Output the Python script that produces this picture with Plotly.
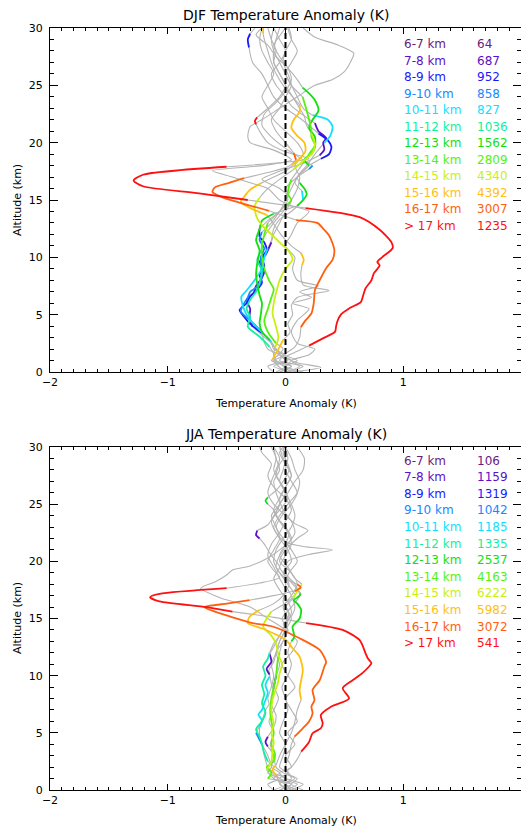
import plotly.graph_objects as go

# ---------------- legend / categories ----------------
BINS = ["6-7 km", "7-8 km", "8-9 km", "9-10 km", "10-11 km", "11-12 km",
        "12-13 km", "13-14 km", "14-15 km", "15-16 km", "16-17 km", "> 17 km"]
COLORS = ["#6a1a80", "#5a10c8", "#1818ff", "#1888ff", "#10e0ff", "#10f0a0",
          "#10e010", "#58f010", "#c8f010", "#ffc010", "#ff6010", "#ff1010"]
DJF_COUNTS = [64, 687, 952, 858, 827, 1036, 1562, 2809, 4340, 4392, 3007, 1235]
JJA_COUNTS = [106, 1159, 1319, 1042, 1185, 1335, 2537, 4163, 6222, 5982, 3072, 541]

X_TICKS = [-2, -1, 0, 1, 2]
Y_TICKS = [0, 5, 10, 15, 20, 25, 30]

# ---------------- DJF profiles (altitude km, anomaly K, significant ranges) ----------------
djf_b0_z = [0, 0.5, 1, 1.5, 2, 2.5, 3.5, 4.5, 5.5, 6, 6.5, 7, 7.5, 8, 9, 10, 11, 12, 13, 14, 14.5, 15, 16, 16.5, 17, 17.55, 18, 18.5, 19.35, 20, 20.5, 21.4, 22, 23, 24, 25, 25.5, 26.2, 27, 27.8, 28.5, 29.2, 30]
djf_b0_x = [0.0, 0.12, 0.05, 0.2, 0.25, 0.1, 0.05, 0.1, 0.2, 0.06, 0.22, 0.12, 0.28, 0.1, 0.06, 0.08, 0.0, 0.05, 0.1, 0.2, 0.05, -0.05, -0.15, -0.3, -0.45, -0.62, -0.2, 0.05, -0.1, -0.3, -0.32, -0.3, -0.2, -0.05, 0.1, 0.25, 0.4, 0.5, 0.55, 0.58, 0.45, 0.25, 0.15]
djf_b0_sig = []

djf_b1_z = [0, 0.5, 1, 1.5, 2, 2.5, 3.2, 3.95, 4.8, 5.5, 6.28, 6.9, 7.5, 8.2, 8.9, 9.6, 10.2, 10.6, 11.3, 12, 13, 14, 15, 16, 16.8, 17.5, 18.2, 18.9, 19.4, 20.0, 20.4, 21.0, 21.7, 22.4, 23.2, 24, 25, 26, 27, 28, 29, 30]
djf_b1_x = [-0.05, 0.05, -0.1, 0.0, -0.1, -0.12, -0.2, -0.28, -0.305, -0.3, -0.33, -0.27, -0.25, -0.2, -0.18, -0.22, -0.17, -0.15, -0.12, -0.1, -0.05, 0.0, 0.05, -0.05, -0.2, -0.05, 0.15, 0.29, 0.33, 0.32, 0.345, 0.28, 0.25, 0.15, 0.05, 0.0, -0.08, -0.12, -0.05, 0.0, -0.05, -0.1]
djf_b1_sig = [(3.95, 11.3), (18.9, 21.7)]

djf_b2_z = [0, 0.5, 1, 1.5, 2, 2.6, 3.4, 4.2, 4.8, 5.4, 6.0, 6.6, 7.2, 7.8, 8.5, 9.2, 10.0, 10.6, 11.3, 11.8, 12.5, 13.2, 14, 15, 16, 17, 18, 18.6, 19.0, 19.65, 20.2, 20.8, 21.5, 22.3, 23, 24, 25, 26, 27, 28.3, 29, 29.5, 30]
djf_b2_x = [0.05, -0.1, 0.02, -0.05, -0.15, -0.18, -0.2, -0.3, -0.35, -0.39, -0.33, -0.3, -0.24, -0.2, -0.22, -0.18, -0.2, -0.16, -0.18, -0.22, -0.22, -0.15, -0.05, 0.0, 0.05, 0.1, 0.2, 0.3, 0.37, 0.39, 0.36, 0.28, 0.2, 0.1, 0.0, -0.1, -0.15, -0.2, -0.28, -0.31, -0.32, -0.3, -0.26]
djf_b2_sig = [(3.4, 12.5), (18.6, 20.8), (28.3, 29.5)]

djf_b3_z = [0, 0.5, 1, 1.6, 2.2, 2.8, 3.5, 4.5, 5.3, 6.0, 6.5, 7.0, 7.6, 8.5, 9.2, 10.0, 10.8, 11.5, 12.2, 13, 14, 15, 16, 17, 17.7, 18.0, 18.5, 19.5, 20.5, 21.5, 22.5, 23.5, 24.5, 25.5, 26.5, 27.5, 28.5, 29.3, 30]
djf_b3_x = [-0.08, 0.0, -0.12, -0.05, -0.1, -0.14, -0.2, -0.3, -0.38, -0.35, -0.32, -0.3, -0.22, -0.2, -0.205, -0.21, -0.18, -0.22, -0.2, -0.12, -0.05, 0.02, 0.0, 0.1, 0.2, 0.23, 0.15, 0.0, -0.12, -0.2, -0.18, -0.08, 0.0, 0.05, 0.02, -0.05, -0.1, -0.05, 0.0]
djf_b3_sig = [(3.5, 12.2), (17.7, 18.0)]

djf_b4_z = [0, 0.5, 1, 1.5, 2.0, 2.64, 3.37, 4.39, 5.0, 5.7, 6.56, 7.0, 7.44, 8.2, 9.0, 10.0, 10.8, 11.5, 12.5, 13.3, 14, 15, 15.8, 16.5, 17.3, 18, 19, 20.0, 20.6, 21.4, 22.0, 22.4, 23, 24, 25, 26, 27, 28, 29, 30]
djf_b4_x = [0.1, 0.0, 0.05, -0.05, -0.08, -0.12, -0.19, -0.29, -0.33, -0.36, -0.375, -0.34, -0.305, -0.25, -0.2, -0.18, -0.15, -0.12, -0.1, -0.05, 0.05, 0.15, 0.14, 0.08, 0.12, 0.18, 0.25, 0.33, 0.38, 0.40, 0.36, 0.23, 0.15, 0.1, 0.05, 0.0, 0.05, 0.1, 0.05, 0.02]
djf_b4_sig = [(2.64, 10.8), (15.0, 15.8), (20.0, 22.4)]

djf_b5_z = [0, 0.5, 1, 1.6, 2.2, 3.08, 3.95, 4.8, 5.5, 6.3, 7.0, 7.8, 8.8, 9.8, 10.8, 11.5, 12.3, 13, 14, 15, 16, 17, 18, 19, 20, 21, 22, 23, 24, 25, 26, 27, 28, 29, 30]
djf_b5_x = [-0.05, 0.05, -0.08, -0.1, -0.135, -0.22, -0.32, -0.3, -0.33, -0.3, -0.25, -0.22, -0.2, -0.24, -0.2, -0.2, -0.15, -0.1, -0.02, 0.05, 0.1, 0.12, 0.08, 0.15, 0.1, 0.0, -0.1, -0.15, -0.2, -0.15, -0.1, -0.15, -0.2, -0.22, -0.2]
djf_b5_sig = [(2.2, 11.5)]

djf_b6_z = [0, 0.5, 1, 1.5, 2.0, 2.8, 3.5, 4.24, 5.0, 6.0, 6.7, 7.4, 8.5, 9.5, 10.6, 11.5, 12.5, 13.2, 13.8, 14.5, 15.0, 15.5, 16.0, 16.5, 17.0, 17.5, 18.0, 18.5, 19.0, 19.6, 20.5, 21.3, 22.0, 22.8, 23.7, 24.3, 24.8, 25.5, 26.5, 27.5, 28.5, 29.4, 30]
djf_b6_x = [0.15, 0.0, 0.1, -0.02, -0.08, -0.135, -0.2, -0.22, -0.21, -0.2, -0.22, -0.235, -0.25, -0.24, -0.22, -0.25, -0.22, -0.2, -0.1, 0.1, 0.15, 0.18, 0.16, 0.12, 0.1, 0.15, 0.2, 0.16, 0.22, 0.25, 0.25, 0.2, 0.23, 0.28, 0.25, 0.2, 0.145, 0.1, 0.02, -0.08, -0.15, -0.25, -0.2]
djf_b6_sig = [(2.8, 13.8), (14.5, 16.5), (18.0, 24.8)]

djf_b7_z = [0, 0.5, 1, 1.5, 2, 2.5, 3.5, 4.5, 5.5, 6.5, 7.2, 8, 9, 10, 11, 12, 13, 13.5, 14.5, 15, 15.5, 16.2, 16.8, 17.5, 18.2, 19, 19.8, 20.5, 21.1, 22, 22.8, 23.5, 24, 25, 26, 27, 28, 29, 30]
djf_b7_x = [-0.1, -0.15, 0.0, -0.05, -0.02, -0.08, -0.15, -0.18, -0.15, -0.12, -0.1, -0.14, -0.18, -0.2, -0.2, -0.18, -0.15, -0.1, 0.0, 0.05, 0.02, 0.03, 0.05, 0.1, 0.15, 0.2, 0.25, 0.22, 0.22, 0.2, 0.18, 0.16, 0.145, 0.05, 0.0, -0.05, -0.1, -0.12, -0.1]
djf_b7_sig = [(2.5, 13.0), (14.5, 16.8), (18.2, 24.0)]

djf_b8_z = [0, 0.6, 1.2, 2.1, 3.0, 4.3, 5.1, 6.0, 6.9, 8.0, 9.0, 9.8, 10.5, 11.3, 12.0, 12.7, 13.4, 14.1, 14.55, 15.2, 15.9, 16.8, 17.6, 18.4, 19.1, 19.9, 20.8, 21.5, 22.3, 23.0, 24.0, 25.0, 26.0, 27.0, 28.0, 29.0, 30.0]
djf_b8_x = [0.05, -0.03, -0.1, -0.09, -0.06, -0.09, -0.11, -0.1, -0.08, -0.05, 0.0, 0.06, 0.03, -0.05, -0.12, -0.19, -0.24, -0.26, -0.26, -0.22, -0.16, -0.05, 0.06, 0.15, 0.23, 0.25, 0.22, 0.18, 0.16, 0.12, 0.06, 0.0, -0.05, -0.1, -0.1, -0.08, -0.05]
djf_b8_sig = [(2.1, 15.2), (17.6, 20.8)]

djf_b9_z = [0, 0.5, 1.05, 1.5, 2.0, 2.8, 3.5, 4.2, 5.0, 5.8, 6.5, 7.1, 7.6, 8.5, 9.3, 9.8, 10.4, 11.0, 12.0, 12.6, 13.2, 13.7, 14.3, 14.85, 15.3, 15.9, 16.5, 17.0, 17.5, 18.05, 18.6, 19.3, 20.0, 20.6, 21.3, 22.0, 22.7, 23.3, 24.0, 25.0, 26.0, 27.0, 28.0, 29.0, 29.5, 30.0]
djf_b9_x = [0.0, -0.06, -0.11, -0.09, -0.06, -0.02, 0.04, 0.02, 0.06, 0.05, 0.1, 0.37, 0.15, 0.13, 0.14, 0.155, 0.13, 0.05, -0.04, -0.08, -0.12, -0.16, -0.30, -0.38, -0.35, -0.30, -0.20, -0.1, 0.0, 0.06, 0.12, 0.17, 0.16, 0.1, 0.05, 0.07, 0.12, 0.12, 0.06, -0.02, -0.08, -0.12, -0.15, -0.18, -0.19, -0.19]
djf_b9_sig = [(1.05, 2.8), (9.3, 10.4), (13.7, 16.5), (18.05, 23.3), (29.5, 30.0)]

djf_b10_z = [0, 0.5, 1.0, 1.6, 2.2, 3.0, 3.9, 4.5, 5.1, 6.0, 7.15, 8.0, 9.05, 9.8, 10.6, 11.2, 11.9, 12.5, 13.0, 13.25, 14.06, 14.8, 15.3, 15.7, 16.1, 16.5, 16.9, 17.4, 17.9, 18.5, 19.1, 20.0, 21.0, 22.0, 23.0, 24.0, 25.0, 26.0, 27.0, 28.0, 29.0, 30.0]
djf_b10_x = [0.02, 0.15, -0.05, 0.0, 0.08, 0.12, 0.13, 0.17, 0.22, 0.24, 0.25, 0.29, 0.345, 0.40, 0.415, 0.40, 0.37, 0.32, 0.27, 0.09, -0.14, -0.40, -0.55, -0.62, -0.60, -0.48, -0.35, -0.15, 0.02, 0.09, 0.07, 0.0, -0.08, -0.12, -0.05, 0.0, 0.05, 0.02, -0.02, 0.0, 0.05, 0.03]
djf_b10_sig = [(3.9, 13.25), (14.06, 16.9), (18.5, 19.1)]

djf_b11_z = [0, 0.4, 0.8, 1.3, 1.8, 2.3, 3.0, 3.5, 4.0, 4.4, 5.0, 5.6, 6.1, 6.7, 7.3, 8.0, 8.6, 9.3, 9.6, 10.0, 10.8, 11.3, 12.4, 13.5, 14.3, 15.0, 15.6, 16.2, 16.7, 17.2, 17.9, 18.2, 18.6, 19.2, 20.0, 21.0, 21.6, 21.9, 22.2, 23.0, 24.0, 25.0, 26.0, 27.0, 28.0, 29.0, 30.0]
djf_b11_x = [0.05, 0.3, 0.1, 0.0, 0.1, 0.2, 0.33, 0.42, 0.43, 0.44, 0.47, 0.55, 0.64, 0.66, 0.68, 0.73, 0.75, 0.80, 0.78, 0.82, 0.91, 0.90, 0.80, 0.63, 0.17, -0.32, -0.75, -1.21, -1.29, -1.21, -0.50, -0.1, 0.2, 0.0, -0.15, -0.22, -0.25, -0.26, -0.24, -0.15, -0.05, 0.0, -0.05, -0.1, -0.08, -0.12, -0.15]
djf_b11_sig = [(2.3, 14.3), (15.0, 17.9), (21.6, 22.2)]

# ---------------- JJA profiles ----------------
jja_b0_z = [0, 0.5, 1, 1.5, 2, 3, 4, 5, 6, 7, 8, 9, 10, 11, 12, 13, 14, 15, 16, 16.8, 17.65, 18.2, 18.8, 19.25, 19.6, 20.3, 21, 22, 23, 24, 25, 26, 27, 28, 29, 30]
jja_b0_x = [0.05, 0.15, 0.0, -0.05, 0.05, 0.0, 0.08, 0.02, 0.1, 0.05, 0.0, 0.08, 0.02, -0.03, 0.05, 0.1, 0.0, -0.15, -0.3, -0.55, -0.72, -0.6, -0.5, -0.45, -0.3, -0.15, -0.05, 0.05, 0.0, -0.08, -0.05, 0.02, 0.08, 0.15, 0.16, 0.1]
jja_b0_sig = []

jja_b1_z = [0, 0.5, 1, 1.5, 2, 3, 3.8, 4.2, 4.66, 5.5, 6.5, 7.5, 8.5, 9.3, 10.1, 10.6, 11.2, 11.9, 12.5, 13.5, 14.5, 15.5, 16.5, 17.5, 18.5, 19.5, 20.5, 21.5, 22.0, 22.3, 22.7, 23.2, 24, 25, 26, 27, 28, 29, 30]
jja_b1_x = [-0.05, 0.05, -0.1, -0.05, -0.12, -0.1, -0.15, -0.17, -0.15, -0.1, -0.08, -0.12, -0.1, -0.12, -0.135, -0.16, -0.12, -0.135, -0.1, -0.05, 0.0, 0.05, 0.02, -0.05, -0.1, -0.05, -0.12, -0.18, -0.22, -0.25, -0.24, -0.15, -0.1, -0.05, -0.08, -0.1, -0.05, -0.08, -0.1]
jja_b1_sig = [(3.8, 4.66), (10.1, 11.9), (22.0, 22.7)]

jja_b2_z = [0, 0.5, 1, 1.5, 2, 3, 4, 5, 6, 7, 8, 9, 10, 11, 12, 13, 14, 15, 16, 17, 18, 19, 20, 20.6, 21.0, 21.3, 21.7, 22.5, 23.5, 24.5, 25.5, 26.5, 27.5, 28.5, 29.3, 30]
jja_b2_x = [0.1, 0.0, 0.08, -0.02, -0.08, -0.1, -0.13, -0.1, -0.14, -0.1, -0.06, -0.1, -0.08, -0.05, -0.08, -0.02, 0.02, -0.03, 0.05, 0.12, 0.08, 0.0, 0.02, 0.2, 0.4, 0.15, 0.0, -0.08, -0.12, -0.05, 0.02, -0.02, -0.08, -0.05, 0.0, -0.05]
jja_b2_sig = [(9.0, 10.0)]

jja_b3_z = [0, 0.5, 1, 1.5, 2, 3, 4, 5, 6, 7, 7.5, 8, 9, 10, 11, 12, 13, 14, 15, 16, 17, 18, 19, 20, 21, 22, 22.7, 23.3, 24, 25, 26, 27, 28, 29, 30]
jja_b3_x = [-0.1, 0.0, -0.05, -0.15, -0.12, -0.15, -0.2, -0.25, -0.2, -0.17, -0.14, -0.15, -0.12, -0.1, -0.12, -0.08, -0.05, 0.0, 0.02, -0.02, 0.05, 0.1, 0.05, -0.05, 0.0, 0.1, 0.19, 0.08, 0.0, -0.1, -0.15, -0.12, -0.08, -0.05, -0.1]
jja_b3_sig = [(4.0, 5.0)]

jja_b4_z = [0, 0.5, 1, 1.5, 2, 3, 4, 4.66, 5.5, 6.1, 6.6, 7.0, 7.6, 8.5, 9.2, 9.9, 10.5, 11.2, 12, 13, 14, 15, 16, 17, 18, 19, 20, 21, 22, 23, 24, 25, 26, 27, 28, 29, 30]
jja_b4_x = [0.05, -0.05, 0.0, -0.1, -0.15, -0.18, -0.2, -0.22, -0.22, -0.2, -0.23, -0.2, -0.18, -0.15, -0.17, -0.135, -0.14, -0.1, -0.08, -0.05, 0.0, 0.05, 0.0, 0.08, 0.02, -0.05, -0.1, -0.08, -0.02, 0.05, 0.08, 0.05, 0.0, -0.05, -0.02, 0.0, -0.02]
jja_b4_sig = [(5.5, 9.9)]

jja_b5_z = [0, 0.5, 1, 1.5, 2, 2.5, 3.2, 4.0, 4.66, 5.3, 6.0, 6.8, 7.6, 8.4, 9.2, 10.0, 10.8, 11.5, 12.0, 12.8, 13.5, 14.5, 15.5, 16.5, 17.5, 18.5, 19.5, 20.5, 21.5, 22.5, 23.5, 24.5, 25.5, 26.5, 27.5, 28.5, 29.5, 30]
jja_b5_x = [-0.1, -0.15, -0.05, -0.12, -0.1, -0.15, -0.18, -0.2, -0.22, -0.25, -0.2, -0.17, -0.2, -0.18, -0.2, -0.17, -0.19, -0.15, -0.135, -0.1, -0.05, 0.0, 0.03, -0.02, 0.0, -0.05, -0.1, -0.15, -0.12, -0.05, 0.0, 0.05, 0.0, -0.1, -0.15, -0.12, -0.2, -0.22]
jja_b5_sig = [(2.5, 12.0)]

jja_b6_z = [0, 0.5, 1, 1.5, 2, 3, 4, 5, 6, 7, 8, 9, 10, 11, 12, 13.0, 13.4, 14.3, 15.0, 15.75, 16.3, 16.6, 17.0, 17.2, 17.8, 18.5, 19.5, 20.5, 21.5, 22.5, 23.5, 24.5, 25.0, 25.3, 25.6, 26.2, 27, 28, 29, 30]
jja_b6_x = [0.0, 0.1, -0.05, 0.02, -0.05, -0.02, 0.0, -0.05, -0.02, 0.02, 0.0, -0.03, 0.02, 0.05, 0.02, 0.05, 0.076, 0.06, 0.12, 0.133, 0.1, 0.07, 0.12, 0.13, 0.08, 0.02, -0.05, 0.0, 0.05, 0.02, -0.05, -0.1, -0.15, -0.17, -0.15, -0.08, -0.02, 0.03, -0.02, -0.05]
jja_b6_sig = [(13.0, 17.2), (25.0, 25.6)]

jja_b7_z = [0, 0.5, 1.0, 1.5, 2.0, 2.5, 3.2, 4.0, 5.0, 6.0, 7.0, 8.0, 9.0, 10.0, 11.0, 11.4, 12.0, 12.8, 13.5, 14.0, 14.5, 15.2, 16, 17, 18, 19, 20, 21, 22, 23, 24, 25, 26, 27, 28, 29, 30]
jja_b7_x = [-0.05, 0.05, -0.15, -0.12, -0.16, -0.1, -0.09, -0.12, -0.1, -0.12, -0.13, -0.12, -0.1, -0.08, -0.07, -0.065, -0.05, -0.03, 0.0, 0.02, -0.02, 0.05, 0.08, 0.05, 0.0, 0.03, 0.1, 0.05, -0.02, -0.08, -0.03, 0.05, 0.1, 0.05, 0.0, 0.02, 0.0]
jja_b7_sig = [(1.0, 12.0)]

jja_b8_z = [0, 0.5, 1.0, 1.75, 2.5, 3.5, 4.2, 4.96, 5.8, 6.8, 7.9, 8.6, 9.33, 10.2, 11.0, 11.8, 12.8, 13.5, 14.3, 15.0, 15.6, 16.2, 16.8, 17.2, 17.6, 18.0, 18.5, 19.5, 20.5, 21.5, 22.5, 23.5, 24.5, 25.5, 26.5, 27.5, 28.5, 29.5, 30]
jja_b8_x = [0.05, 0.0, -0.1, -0.16, -0.12, -0.11, -0.1, -0.12, -0.1, -0.12, -0.11, -0.09, -0.065, -0.05, -0.03, -0.06, -0.08, -0.12, -0.19, -0.16, -0.12, -0.02, 0.06, 0.09, 0.11, 0.14, 0.08, 0.02, -0.05, 0.0, 0.03, -0.05, -0.1, -0.05, 0.0, 0.05, 0.0, -0.05, -0.02]
jja_b8_sig = [(1.75, 15.6), (16.8, 18.0)]

jja_b9_z = [0, 0.6, 1.3, 1.75, 2.2, 3.0, 4.0, 5.0, 6.0, 7.0, 7.9, 8.75, 9.6, 10.5, 11.66, 12.4, 13.1, 14.1, 14.6, 15.16, 15.75, 16.3, 17.0, 18.0, 19.0, 20.0, 21.0, 22.0, 23.0, 24.0, 25.0, 26.0, 27.0, 28.0, 29.0, 30.0]
jja_b9_x = [0.0, -0.05, -0.08, -0.11, -0.08, -0.05, 0.0, 0.05, 0.08, 0.1, 0.133, 0.12, 0.133, 0.147, 0.12, 0.06, 0.006, -0.19, -0.32, -0.305, -0.22, -0.1, -0.02, 0.03, -0.02, 0.05, 0.02, -0.05, -0.1, -0.05, 0.02, 0.1, 0.12, 0.08, 0.05, 0.0]
jja_b9_sig = [(1.3, 2.2), (7.9, 15.75)]

jja_b10_z = [0, 0.5, 1, 2, 3, 4, 4.66, 5.4, 6.0, 6.7, 7.3, 7.87, 8.75, 9.6, 10.8, 11.2, 12.25, 13.27, 14.3, 14.6, 15.2, 15.6, 16.0, 16.3, 16.6, 17.0, 17.4, 17.7, 18.0, 18.5, 19.5, 20.5, 21.5, 22.5, 23.5, 24.5, 25.5, 26.5, 27.5, 28.5, 29.5, 30]
jja_b10_x = [0.1, 0.0, 0.05, 0.0, 0.03, 0.05, 0.076, 0.147, 0.2, 0.23, 0.22, 0.246, 0.23, 0.29, 0.33, 0.345, 0.29, 0.12, -0.11, -0.28, -0.48, -0.6, -0.69, -0.5, -0.305, -0.1, 0.08, 0.13, 0.1, 0.0, -0.08, -0.05, 0.02, 0.08, 0.05, -0.02, -0.05, 0.0, 0.05, 0.02, -0.02, 0.0]
jja_b10_sig = [(4.66, 16.6), (17.4, 18.0)]

jja_b11_z = [0, 0.5, 1.0, 1.5, 2.0, 2.7, 3.35, 4.2, 4.96, 5.4, 5.83, 6.56, 7.3, 8.0, 8.9, 9.6, 10.2, 10.8, 11.1, 11.5, 11.96, 13.1, 14.0, 14.6, 15.1, 15.6, 16.0, 16.5, 16.86, 17.15, 17.65, 18.1, 18.6, 19.2, 20.0, 21.0, 22.0, 23.0, 24.0, 25.0, 26.0, 27.0, 28.0, 29.0, 30.0]
jja_b11_x = [0.15, 0.05, 0.1, 0.0, 0.05, 0.1, 0.133, 0.2, 0.23, 0.3, 0.316, 0.30, 0.39, 0.54, 0.486, 0.57, 0.65, 0.71, 0.73, 0.70, 0.68, 0.63, 0.486, 0.175, -0.1, -0.45, -0.67, -1.07, -1.15, -1.07, -0.50, -0.22, -0.05, -0.1, -0.15, -0.1, -0.05, -0.08, -0.12, -0.05, 0.0, -0.05, -0.1, -0.08, -0.12]
jja_b11_sig = [(3.35, 14.6), (15.6, 17.65)]

DJF_PROFILES = [
    (djf_b0_z, djf_b0_x, djf_b0_sig), (djf_b1_z, djf_b1_x, djf_b1_sig),
    (djf_b2_z, djf_b2_x, djf_b2_sig), (djf_b3_z, djf_b3_x, djf_b3_sig),
    (djf_b4_z, djf_b4_x, djf_b4_sig), (djf_b5_z, djf_b5_x, djf_b5_sig),
    (djf_b6_z, djf_b6_x, djf_b6_sig), (djf_b7_z, djf_b7_x, djf_b7_sig),
    (djf_b8_z, djf_b8_x, djf_b8_sig), (djf_b9_z, djf_b9_x, djf_b9_sig),
    (djf_b10_z, djf_b10_x, djf_b10_sig), (djf_b11_z, djf_b11_x, djf_b11_sig),
]
JJA_PROFILES = [
    (jja_b0_z, jja_b0_x, jja_b0_sig), (jja_b1_z, jja_b1_x, jja_b1_sig),
    (jja_b2_z, jja_b2_x, jja_b2_sig), (jja_b3_z, jja_b3_x, jja_b3_sig),
    (jja_b4_z, jja_b4_x, jja_b4_sig), (jja_b5_z, jja_b5_x, jja_b5_sig),
    (jja_b6_z, jja_b6_x, jja_b6_sig), (jja_b7_z, jja_b7_x, jja_b7_sig),
    (jja_b8_z, jja_b8_x, jja_b8_sig), (jja_b9_z, jja_b9_x, jja_b9_sig),
    (jja_b10_z, jja_b10_x, jja_b10_sig), (jja_b11_z, jja_b11_x, jja_b11_sig),
]

GRAY = "#b4b4b4"
FONT = "DejaVu Sans"
W, H = 521, 827


def split_runs(z, x, sig):
    """Split a profile into gray (not significant) and coloured (significant) runs."""
    n = min(len(z), len(x))
    col = []
    for i in range(n - 1):
        c = any(lo - 1e-9 <= z[i] and z[i + 1] <= hi + 1e-9 for lo, hi in sig)
        col.append(c)
    gx, gy, cx, cy = [], [], [], []
    i = 0
    while i < n - 1:
        j = i
        while j < n - 1 and col[j] == col[i]:
            j += 1
        xs, ys = list(x[i:j + 1]), list(z[i:j + 1])
        if col[i]:
            cx += xs + [None]
            cy += ys + [None]
        else:
            gx += xs + [None]
            gy += ys + [None]
        i = j
    return gx, gy, cx, cy


fig = go.Figure()
LINE_SHAPE = dict(shape="spline", smoothing=0.7)

for profiles, xa, ya in [(DJF_PROFILES, "x", "y"), (JJA_PROFILES, "x2", "y2")]:
    runs = [split_runs(*p) for p in profiles]
    for gx, gy, cx, cy in runs:
        if gx:
            fig.add_trace(go.Scatter(x=gx, y=gy, mode="lines", xaxis=xa, yaxis=ya,
                                     line=dict(color=GRAY, width=1.1, **LINE_SHAPE),
                                     hoverinfo="skip", showlegend=False))
    for k, (gx, gy, cx, cy) in enumerate(runs):
        if cx:
            fig.add_trace(go.Scatter(x=cx, y=cy, mode="lines", xaxis=xa, yaxis=ya,
                                     line=dict(color=COLORS[k], width=1.8, **LINE_SHAPE),
                                     hoverinfo="skip", showlegend=False))


def px_x(p):
    return p / W


def px_y(p):
    return (H - p) / H


X_DOM = [px_x(50), 1.0]
Y_DOM_TOP = [px_y(372), px_y(28)]
Y_DOM_BOT = [px_y(790), px_y(447)]


def xaxis_cfg(anchor):
    return dict(domain=X_DOM, range=[-2, 2], anchor=anchor, tickvals=X_TICKS,
                ticks="inside", ticklen=6, tickwidth=1, tickcolor="black",
                showline=True, linecolor="black", linewidth=1, mirror="allticks",
                showgrid=False, zeroline=False, automargin=False,
                minor=dict(ticks="inside", ticklen=3, tickwidth=1, tickcolor="black",
                           dtick=0.1, tick0=0, showgrid=False),
                tickfont=dict(family=FONT, size=11, color="black"))


def yaxis_cfg(domain, anchor):
    return dict(domain=domain, range=[0, 30], anchor=anchor, tickvals=Y_TICKS,
                ticks="inside", ticklen=8, tickwidth=1, tickcolor="black",
                showline=True, linecolor="black", linewidth=1, mirror="allticks",
                showgrid=False, zeroline=False, ticklabelstandoff=4, automargin=False,
                minor=dict(ticks="inside", ticklen=4, tickwidth=1, tickcolor="black",
                           dtick=1, tick0=0, showgrid=False),
                tickfont=dict(family=FONT, size=11, color="black"))


fig.update_layout(
    width=W, height=H, margin=dict(l=0, r=0, t=0, b=0, autoexpand=False),
    paper_bgcolor="white", plot_bgcolor="white", showlegend=False,
    xaxis=xaxis_cfg("y"), yaxis=yaxis_cfg(Y_DOM_TOP, "x"),
    xaxis2=xaxis_cfg("y2"), yaxis2=yaxis_cfg(Y_DOM_BOT, "x2"),
)

# zero reference lines
for xr, yr in [("x", "y"), ("x2", "y2")]:
    fig.add_shape(type="line", xref=xr, yref=yr, x0=0, x1=0, y0=0, y1=30,
                  line=dict(color="black", width=2, dash="6px,3px"), layer="above")

annotations = []
# titles and axis titles
for title, ty, xty, yty in [("DJF Temperature Anomaly (K)", 15, 403, 200),
                            ("JJA Temperature Anomaly (K)", 434, 820, 618)]:
    annotations.append(dict(text=title, xref="paper", yref="paper", x=px_x(286), y=px_y(ty),
                            xanchor="center", yanchor="middle", showarrow=False,
                            font=dict(family=FONT, size=14, color="black")))
    annotations.append(dict(text="Temperature Anomaly (K)", xref="paper", yref="paper",
                            x=px_x(286), y=px_y(xty), xanchor="center", yanchor="middle",
                            showarrow=False, font=dict(family=FONT, size=11, color="black")))
    annotations.append(dict(text="Altitude (km)", xref="paper", yref="paper",
                            x=px_x(17), y=px_y(yty), xanchor="center", yanchor="middle",
                            textangle=-90, showarrow=False,
                            font=dict(family=FONT, size=11, color="black")))

# in-plot legends
for counts, xr, yr, y0, dy in [(DJF_COUNTS, "x", "y", 28.6, 1.44),
                               (JJA_COUNTS, "x2", "y2", 28.8, 1.45)]:
    for i, (lab, cnt) in enumerate(zip(BINS, counts)):
        yy = y0 - dy * i
        annotations.append(dict(text=lab, xref=xr, yref=yr, x=0.99, y=yy,
                                xanchor="left", yanchor="middle", showarrow=False,
                                font=dict(family=FONT, size=12, color=COLORS[i])))
        annotations.append(dict(text=str(cnt), xref=xr, yref=yr, x=1.61, y=yy,
                                xanchor="left", yanchor="middle", showarrow=False,
                                font=dict(family=FONT, size=12, color=COLORS[i])))

fig.update_layout(annotations=annotations)
fig.write_html("out.html", config={"displayModeBar": False},
               post_script="document.body.style.margin='0';document.body.style.overflow='hidden';")
